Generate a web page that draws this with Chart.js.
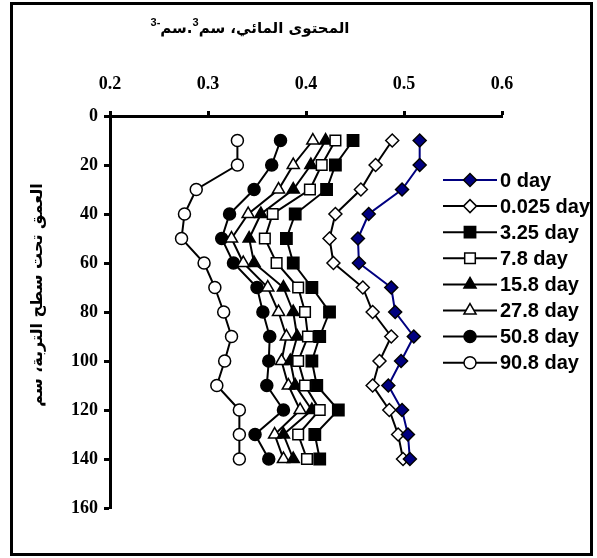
<!DOCTYPE html>
<html>
<head>
<meta charset="utf-8">
<script src="https://cdn.jsdelivr.net/npm/chart.js@4/dist/chart.umd.min.js"></script>
<style>
  html, body { margin: 0; padding: 0; background: #fff; }
  #chart { display: block; }
</style>
</head>
<body>
<canvas id="chart" width="597" height="558"></canvas>
<script>
// depth below soil surface (cm)
const depths = [10, 20, 30, 40, 50, 60, 70, 80, 90, 100, 110, 120, 130, 140];

// water content (cm3/cm3)
const day0    = [0.516, 0.516, 0.498, 0.464, 0.453, 0.454, 0.487, 0.491, 0.510, 0.497, 0.484, 0.498, 0.504, 0.506];
const day0025 = [0.488, 0.471, 0.456, 0.430, 0.424, 0.428, 0.458, 0.468, 0.487, 0.475, 0.468, 0.485, 0.494, 0.499];
const day325  = [0.448, 0.430, 0.421, 0.389, 0.380, 0.387, 0.406, 0.424, 0.414, 0.406, 0.411, 0.433, 0.409, 0.414];
const day78   = [0.430, 0.416, 0.404, 0.366, 0.358, 0.370, 0.392, 0.399, 0.402, 0.392, 0.399, 0.414, 0.392, 0.401];
const day158  = [0.420, 0.405, 0.387, 0.354, 0.342, 0.347, 0.377, 0.387, 0.391, 0.384, 0.389, 0.406, 0.377, 0.387];
const day278  = [0.407, 0.387, 0.372, 0.341, 0.324, 0.336, 0.361, 0.372, 0.380, 0.375, 0.382, 0.394, 0.368, 0.377];
const day508  = [0.374, 0.365, 0.347, 0.322, 0.314, 0.326, 0.350, 0.356, 0.363, 0.362, 0.360, 0.377, 0.348, 0.362];
const day908  = [0.330, 0.330, 0.288, 0.276, 0.273, 0.296, 0.307, 0.316, 0.324, 0.317, 0.309, 0.332, 0.332, 0.332];

const seriesLabels = ['0 day', '0.025 day', '3.25 day', '7.8 day', '15.8 day', '27.8 day', '50.8 day', '90.8 day'];
const xTicks = [0.2, 0.3, 0.4, 0.5, 0.6];
const yTicks = [0, 20, 40, 60, 80, 100, 120, 140, 160];

const xTitle = 'المحتوى المائي، سم';
const yTitle = 'العمق تحت سطح التربة، سم';

const seriesValues = [day0, day0025, day325, day78, day158, day278, day508, day908];
const styles = [
  { line: '#000080', fill: '#000080', shape: 'rectRot', r: 6.5 },
  { line: '#000', fill: '#fff', shape: 'rectRot', r: 6.5 },
  { line: '#000', fill: '#000', shape: 'rect', r: 8 },
  { line: '#000', fill: '#fff', shape: 'rect', r: 7.5 },
  { line: '#000', fill: '#000', shape: 'triangle', r: 7 },
  { line: '#000', fill: '#fff', shape: 'triangle', r: 7 },
  { line: '#000', fill: '#000', shape: 'circle', r: 6 },
  { line: '#000', fill: '#fff', shape: 'circle', r: 6 },
];

const datasets = seriesValues.map((vals, i) => ({
  label: seriesLabels[i],
  data: vals.map((v, j) => ({ x: v, y: depths[j] })),
  showLine: true,
  borderColor: styles[i].line,
  borderWidth: 2,
  pointStyle: styles[i].shape,
  pointRadius: styles[i].r,
  pointBackgroundColor: styles[i].fill,
  pointBorderColor: '#000',
  pointBorderWidth: 1.5,
  tension: 0,
  fill: false,
  clip: false,
}));

const tickFont = { family: '"Liberation Serif", "Times New Roman", serif', size: 18, weight: 'bold' };
const arabicFont = '"DejaVu Sans", "Liberation Sans", sans-serif';

// titles, legend and outer frame drawn by hand
const extras = {
  id: 'extras',
  afterDraw(chart) {
    const c = chart.ctx;
    c.save();

    // frame
    c.strokeStyle = '#000';
    c.lineWidth = 3;
    c.strokeRect(11.5, 3.5, 580, 551);

    // x title with superscripts, pieces right to left
    const mainFont = 'bold 15px ' + arabicFont;
    const supFont = 'bold 11px "Liberation Sans", Arial, sans-serif';
    const parts = [
      { t: xTitle, sup: false },
      { t: '3', sup: true },
      { t: '.', sup: false },
      { t: 'سم', sup: false },
      { t: '-3', sup: true },
    ];
    let total = 0;
    parts.forEach(p => {
      c.font = p.sup ? supFont : mainFont;
      p.w = c.measureText(p.t).width;
      total += p.w;
    });
    let xr = 250 + total / 2;
    c.fillStyle = '#000';
    c.textBaseline = 'alphabetic';
    c.textAlign = 'right';
    c.direction = 'rtl';
    parts.forEach(p => {
      c.font = p.sup ? supFont : mainFont;
      c.fillText(p.t, xr, p.sup ? 26 : 33);
      xr -= p.w;
    });

    // y title
    c.save();
    c.translate(38, 295);
    c.rotate(-Math.PI / 2);
    c.font = 'bold 16px ' + arabicFont;
    c.textAlign = 'center';
    c.textBaseline = 'middle';
    c.fillText(yTitle, 0, 0);
    c.restore();

    // legend
    c.direction = 'ltr';
    chart.data.datasets.forEach((ds, i) => {
      const y = 180 + i * 26.1;
      c.strokeStyle = ds.borderColor;
      c.lineWidth = 2;
      c.beginPath();
      c.moveTo(443, y);
      c.lineTo(497, y);
      c.stroke();
      c.fillStyle = ds.pointBackgroundColor;
      c.strokeStyle = '#000';
      c.lineWidth = 1.5;
      Chart.helpers.drawPoint(c, { pointStyle: ds.pointStyle, radius: ds.pointRadius, rotation: 0, borderWidth: 1.5 }, 470, y);
      c.fillStyle = '#000';
      c.font = 'bold 20px "Liberation Sans", Arial, sans-serif';
      c.textAlign = 'left';
      c.textBaseline = 'middle';
      c.fillText(ds.label, 500, y + 1);
    });

    c.restore();
  }
};

new Chart(document.getElementById('chart'), {
  type: 'scatter',
  data: { datasets },
  options: {
    responsive: false,
    animation: false,
    layout: { padding: { left: 0, top: 0, right: 95, bottom: 50 } },
    plugins: {
      legend: { display: false },
      title: { display: false },
      tooltip: { enabled: false },
    },
    scales: {
      x: {
        type: 'linear',
        position: 'top',
        min: 0.2,
        max: 0.6,
        afterBuildTicks: s => { s.ticks = xTicks.map(v => ({ value: v })); },
        ticks: { color: '#000', font: tickFont, padding: 16, callback: v => v.toFixed(1) },
        grid: { drawOnChartArea: false, drawTicks: true, tickLength: 5, tickWidth: 3, tickColor: '#000' },
        border: { display: true, width: 3, color: '#000' },
        afterFit: s => { s.height = 116; },
      },
      y: {
        type: 'linear',
        reverse: true,
        min: 0,
        max: 160,
        afterBuildTicks: s => { s.ticks = yTicks.map(v => ({ value: v })); },
        ticks: { color: '#000', font: tickFont, padding: 6 },
        grid: { drawOnChartArea: false, drawTicks: true, tickLength: 6, tickWidth: 3, tickColor: '#000' },
        border: { display: true, width: 3, color: '#000' },
        afterFit: s => { s.width = 110; },
      }
    }
  },
  plugins: [extras]
});
</script>
</body>
</html>
